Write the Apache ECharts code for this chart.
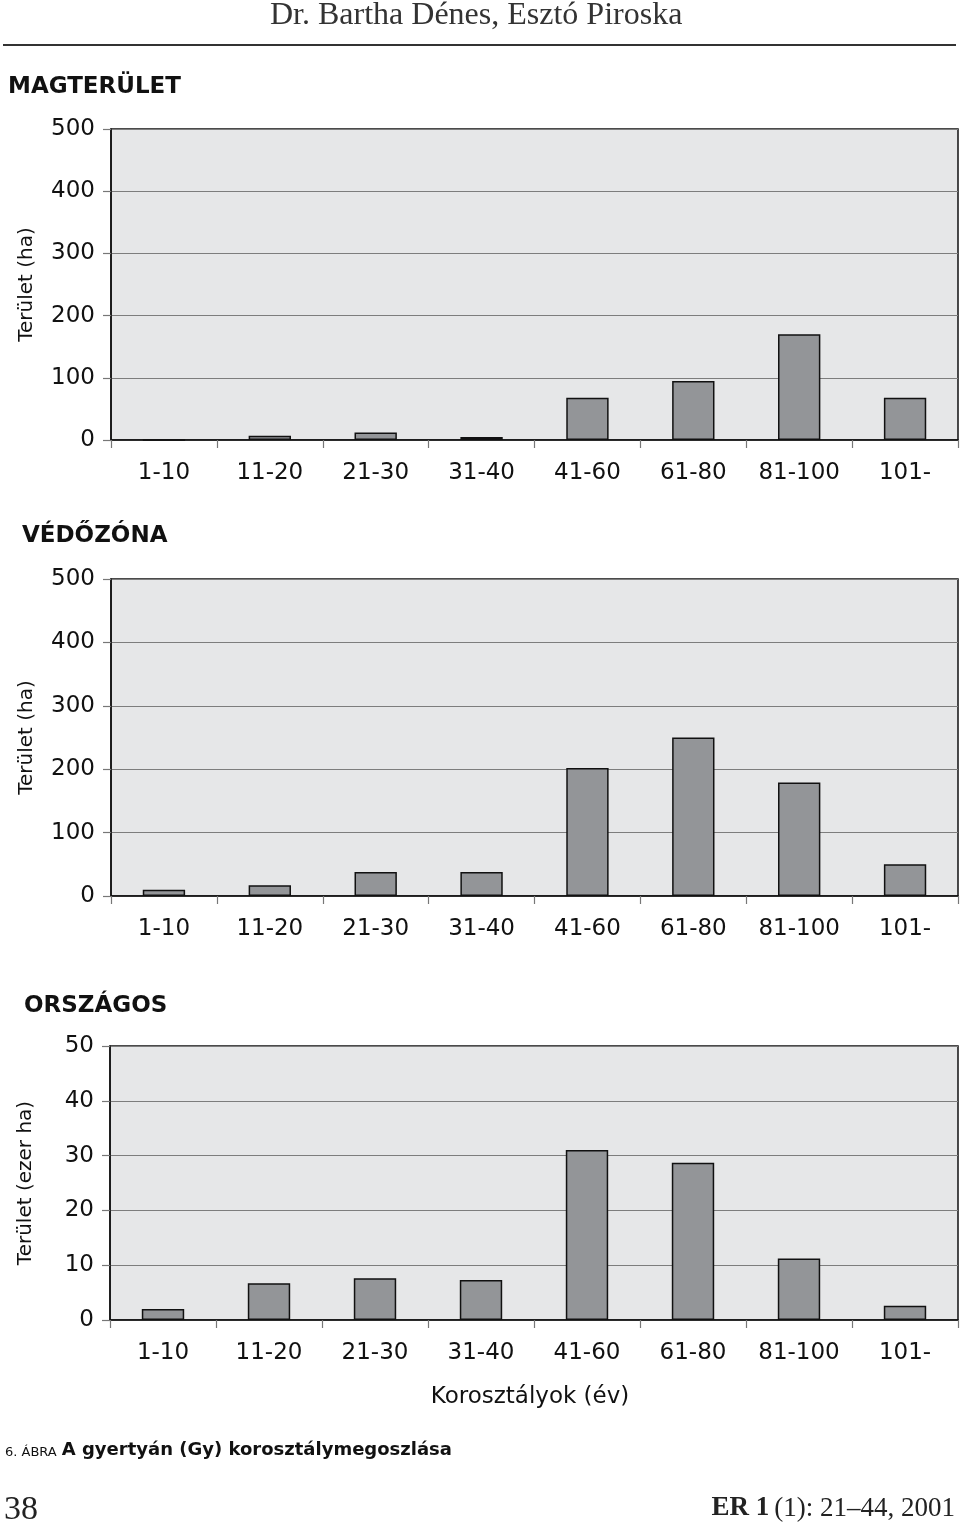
<!DOCTYPE html>
<html>
<head>
<meta charset="utf-8">
<script src="https://cdn.jsdelivr.net/npm/echarts@6/dist/echarts.min.js"></script>
<style>
html,body{margin:0;padding:0;background:#fff;}
#c{width:960px;height:1524px;}
</style>
</head>
<body>
<div id="c"></div>
<script>
// ---- data ----
const categories = ['1-10','11-20','21-30','31-40','41-60','61-80','81-100','101-'];
const magterulet = [0, 7, 12, 5, 68, 95, 170, 68];          // ha
const vedozona   = [10, 17, 38, 38, 202, 250, 179, 50];     // ha
const orszagos   = [2.0, 6.7, 7.6, 7.3, 31.0, 28.7, 11.2, 2.6]; // ezer ha
const ticksHa = [0, 100, 200, 300, 400, 500];
const ticksEzer = [0, 10, 20, 30, 40, 50];
const panelTitles = ['MAGTERÜLET', 'VÉDŐZÓNA', 'ORSZÁGOS'];
const yTitles = ['Terület (ha)', 'Terület (ha)', 'Terület (ezer ha)'];
const xTitle = 'Korosztályok (év)';

const FONT = 'DejaVu Sans';
const chart = echarts.init(document.getElementById('c'), null, {renderer: 'canvas'});

const grids = [
  {left: 111, top: 129, width: 847, height: 311},
  {left: 111, top: 579, width: 847, height: 317},
  {left: 110, top: 1046, width: 848, height: 274}
].map(g => Object.assign(g, {
  show: true, backgroundColor: '#e6e7e8', borderColor: '#111', borderWidth: 1.5
}));

function xAxis(i, withName) {
  const a = {
    type: 'category', gridIndex: i, data: categories,
    axisLine: {lineStyle: {color: '#111', width: 1.5}},
    axisTick: {show: true, interval: 0, length: 8, lineStyle: {color: '#777', width: 1.2}},
    axisLabel: {interval: 0, hideOverlap: false, margin: 22, fontFamily: FONT, fontSize: 23, color: '#111'},
    splitLine: {show: false}
  };
  if (withName) {
    a.name = xTitle; a.nameLocation = 'middle'; a.nameGap = 66;
    a.nameTextStyle = {fontFamily: FONT, fontSize: 23, color: '#111', padding: [0, 8, 0, 0]};
  }
  return a;
}
function yAxis(i, ticks) {
  return {
    type: 'value', gridIndex: i, min: ticks[0], max: ticks[ticks.length - 1],
    interval: ticks[1] - ticks[0],
    name: yTitles[i], nameLocation: 'middle', nameGap: 74,
    nameTextStyle: {fontFamily: FONT, fontSize: 20, color: '#111'},
    axisLine: {show: true, lineStyle: {color: '#111', width: 1.5}},
    axisTick: {show: true, length: 8, lineStyle: {color: '#777', width: 1.2}},
    axisLabel: {margin: 16, fontFamily: FONT, fontSize: 23, color: '#111'},
    splitLine: {show: true, lineStyle: {color: '#7d7d7d', width: 1.2}}
  };
}
function bars(i, data) {
  return {
    type: 'bar', xAxisIndex: i, yAxisIndex: i, data: data, barWidth: '40%',
    itemStyle: {color: '#939598', borderColor: '#111', borderWidth: 1.5},
    silent: true
  };
}

const option = {
  animation: false,
  backgroundColor: '#fff',
  title: [
    {text: 'Dr. Bartha Dénes, Esztó Piroska', left: 270, top: 0, padding: 0,
     textStyle: {fontFamily: 'Liberation Serif', fontWeight: 'normal', fontSize: 32, color: '#333'}},
    {text: panelTitles[0], left: 8, top: 76, padding: 0,
     textStyle: {fontFamily: FONT, fontWeight: 'bold', fontSize: 23, color: '#111'}},
    {text: panelTitles[1], left: 22, top: 525, padding: 0,
     textStyle: {fontFamily: FONT, fontWeight: 'bold', fontSize: 23, color: '#111'}},
    {text: panelTitles[2], left: 24, top: 995, padding: 0,
     textStyle: {fontFamily: FONT, fontWeight: 'bold', fontSize: 23, color: '#111'}},
    {text: '{s|6. ÁBRA} {b|A gyertyán (Gy) korosztálymegoszlása}', left: 5, top: 1441, padding: 0,
     textStyle: {fontWeight: 'normal', rich: {
       s: {fontFamily: FONT, fontSize: 13, fontWeight: 'normal', color: '#111', verticalAlign: 'bottom'},
       b: {fontFamily: FONT, fontSize: 18, fontWeight: 'bold', color: '#111'}
     }}},
    {text: '38', left: 4, top: 1493, padding: 0,
     textStyle: {fontFamily: 'Liberation Serif', fontWeight: 'normal', fontSize: 34, color: '#222'}},
    {text: '{b|ER 1} {n|(1): 21–44, 2001}', right: 5, top: 1495, padding: 0,
     textStyle: {fontWeight: 'normal', rich: {
       b: {fontFamily: 'Liberation Serif', fontSize: 27, fontWeight: 'bold', color: '#222'},
       n: {fontFamily: 'Liberation Serif', fontSize: 27, fontWeight: 'normal', color: '#222'}
     }}}
  ],
  graphic: [
    {type: 'line', shape: {x1: 3, y1: 45, x2: 956, y2: 45}, style: {stroke: '#333', lineWidth: 2}}
  ],
  grid: grids,
  xAxis: [xAxis(0, false), xAxis(1, false), xAxis(2, true)],
  yAxis: [yAxis(0, ticksHa), yAxis(1, ticksHa), yAxis(2, ticksEzer)],
  series: [bars(0, magterulet), bars(1, vedozona), bars(2, orszagos)]
};
chart.setOption(option);
</script>
</body>
</html>
